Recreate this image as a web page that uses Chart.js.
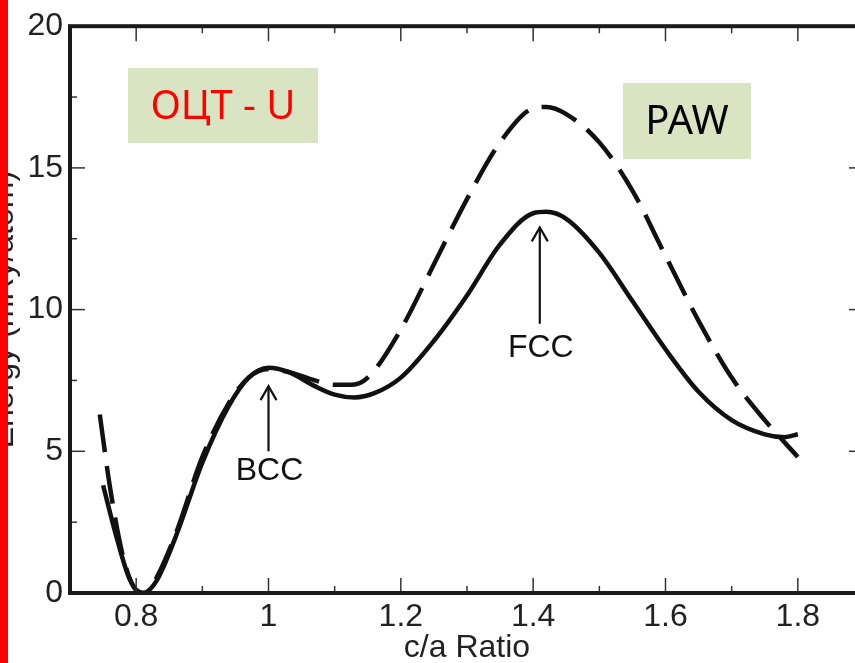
<!DOCTYPE html>
<html>
<head>
<meta charset="utf-8">
<script src="https://cdn.jsdelivr.net/npm/chart.js@4"></script>
<style>
  html, body { margin: 0; padding: 0; background: #fff; overflow: hidden; }
  #wrap { width: 880px; height: 663px; }
</style>
</head>
<body>
<div id="wrap"><canvas id="chart" width="880" height="663"></canvas></div>
<script>
// c/a ratio vs energy, two calculations
const solidX = [0.75, 0.77, 0.79, 0.81, 0.83, 0.86, 0.90, 0.94, 0.97, 1.00, 1.03, 1.07, 1.10, 1.13, 1.16, 1.20, 1.25, 1.30, 1.35, 1.40, 1.42, 1.45, 1.50, 1.55, 1.60, 1.65, 1.70, 1.75, 1.78, 1.80];
const solidY = [3.8, 2.0, 0.5, 0.0, 0.4, 2.0, 4.6, 6.6, 7.6, 7.95, 7.8, 7.3, 7.0, 6.9, 7.05, 7.6, 8.9, 10.5, 12.3, 13.4, 13.45, 13.2, 12.0, 10.3, 8.6, 7.1, 6.1, 5.6, 5.5, 5.6];

const dashX = [0.745, 0.76, 0.78, 0.80, 0.815, 0.83, 0.86, 0.90, 0.94, 0.97, 1.00, 1.03, 1.07, 1.10, 1.126, 1.15, 1.20, 1.25, 1.30, 1.35, 1.40, 1.42, 1.45, 1.50, 1.55, 1.60, 1.65, 1.70, 1.75, 1.80];
const dashY = [6.3, 3.8, 1.3, 0.1, 0.0, 0.5, 2.1, 4.8, 6.7, 7.6, 7.9, 7.8, 7.5, 7.35, 7.35, 7.6, 9.3, 11.6, 13.9, 15.9, 17.1, 17.15, 16.9, 15.9, 14.2, 11.9, 9.6, 7.6, 6.1, 4.8];

const xTicks = [0.8, 1.0, 1.2, 1.4, 1.6, 1.8];
const xTickLabels = ['0.8', '1', '1.2', '1.4', '1.6', '1.8'];
const xMinor = [0.9, 1.1, 1.3, 1.5, 1.7];
const yTicks = [0, 5, 10, 15, 20];
const yMinor = [2.5, 7.5, 12.5, 17.5];

const boxes = [
    { text: 'ОЦТ - U', color: '#ff0000', x: 128, y: 68, w: 190, h: 75 },
    { text: 'PAW', color: '#000000', x: 623, y: 83, w: 128, h: 76 }
];
// arrows point at the peaks: x value, head y value, tail y value
const arrows = [
    { label: 'BCC', x: 1.0, head: 7.3, tail: 5.0, labelY: 4.85 },
    { label: 'FCC', x: 1.41, head: 12.9, tail: 9.5, labelY: 9.2 }
];

const sans = '"Liberation Sans", Arial, sans-serif';

function pts(xs, ys) {
    return xs.map((x, i) => ({ x: x, y: ys[i] }));
}

const decor = {
    id: 'decor',
    afterDatasetsDraw(chart) {
        const ctx = chart.ctx;
        const a = chart.chartArea;
        const xs = chart.scales.x;
        const ys = chart.scales.y;
        ctx.save();

        // label boxes
        boxes.forEach(b => {
            ctx.fillStyle = '#d9e4c2';
            ctx.fillRect(b.x, b.y, b.w, b.h);
            ctx.fillStyle = b.color;
            ctx.font = '40px "Noto Sans", "Open Sans", sans-serif';
            ctx.textAlign = 'center';
            ctx.textBaseline = 'middle';
            ctx.fillText(b.text, b.x + b.w / 2, b.y + b.h / 2 + 2);
        });

        // arrows
        ctx.strokeStyle = '#111';
        ctx.fillStyle = '#111';
        arrows.forEach(ar => {
            const px = xs.getPixelForValue(ar.x);
            const hy = ys.getPixelForValue(ar.head);
            const ty = ys.getPixelForValue(ar.tail);
            ctx.lineWidth = 2.2;
            ctx.beginPath();
            ctx.moveTo(px, ty);
            ctx.lineTo(px, hy);
            ctx.stroke();
            ctx.beginPath();
            ctx.moveTo(px - 8, hy + 14);
            ctx.lineTo(px, hy);
            ctx.lineTo(px + 8, hy + 14);
            ctx.stroke();
            ctx.font = '32px ' + sans;
            ctx.textAlign = 'center';
            ctx.textBaseline = 'top';
            ctx.fillText(ar.label, px + 1, ys.getPixelForValue(ar.labelY));
        });

        // inward ticks on all four sides
        ctx.strokeStyle = '#333';
        ctx.lineWidth = 1.5;
        const tick = (x1, y1, x2, y2) => {
            ctx.beginPath();
            ctx.moveTo(x1, y1);
            ctx.lineTo(x2, y2);
            ctx.stroke();
        };
        xTicks.concat(xMinor).forEach(v => {
            const len = xTicks.includes(v) ? 15 : 7;
            const px = xs.getPixelForValue(v);
            tick(px, a.bottom, px, a.bottom - len);
            tick(px, a.top, px, a.top + len);
        });
        yTicks.concat(yMinor).forEach(v => {
            const len = yTicks.includes(v) ? 15 : 7;
            const py = ys.getPixelForValue(v);
            tick(a.left, py, a.left + len, py);
            tick(a.right, py, a.right - len, py);
        });

        // frame
        ctx.strokeStyle = '#1a1a1a';
        ctx.lineWidth = 4;
        ctx.strokeRect(a.left, a.top, a.right - a.left, a.bottom - a.top);

        // y axis title, mostly cut off at the left edge
        ctx.save();
        ctx.translate(13, ys.getPixelForValue(10));
        ctx.rotate(-Math.PI / 2);
        ctx.fillStyle = '#222';
        ctx.font = '32px ' + sans;
        ctx.textAlign = 'center';
        ctx.textBaseline = 'alphabetic';
        ctx.fillText('Energy (mRy/atom)', 0, 0);
        ctx.restore();

        // red stripe on the left
        ctx.fillStyle = '#ff0000';
        ctx.fillRect(0, 0, 8, chart.height);
        ctx.restore();
    }
};

new Chart(document.getElementById('chart'), {
    type: 'line',
    data: {
        datasets: [
            {
                label: 'solid',
                data: pts(solidX, solidY),
                borderColor: '#111',
                borderWidth: 4.5,
                pointRadius: 0,
                cubicInterpolationMode: 'monotone',
                fill: false
            },
            {
                label: 'dashed',
                data: pts(dashX, dashY),
                borderColor: '#111',
                borderWidth: 4.5,
                borderDash: [38, 14],
                pointRadius: 0,
                cubicInterpolationMode: 'monotone',
                fill: false
            }
        ]
    },
    options: {
        responsive: false,
        animation: false,
        layout: { padding: { top: 21, right: 16, bottom: 0, left: 0 } },
        plugins: {
            legend: { display: false },
            tooltip: { enabled: false }
        },
        scales: {
            x: {
                type: 'linear',
                min: 0.7,
                max: 1.9,
                grid: { display: false, drawTicks: false },
                border: { display: false },
                afterBuildTicks: s => { s.ticks = xTicks.map(v => ({ value: v })); },
                afterFit: s => { s.height = 70; },
                ticks: {
                    padding: 5,
                    color: '#222',
                    font: { family: sans, size: 32 },
                    callback: (v) => xTickLabels[xTicks.indexOf(v)] ?? ''
                },
                title: {
                    display: true,
                    text: 'c/a Ratio',
                    color: '#222',
                    font: { family: sans, size: 32 },
                    padding: { top: 0, bottom: -4 }
                }
            },
            y: {
                min: 0,
                max: 20,
                grid: { display: false, drawTicks: false },
                border: { display: false },
                afterBuildTicks: s => { s.ticks = yTicks.map(v => ({ value: v })); },
                afterFit: s => { s.width = 70; },
                ticks: {
                    padding: 7,
                    color: '#222',
                    font: { family: sans, size: 32 }
                }
            }
        }
    },
    plugins: [decor]
});
</script>
</body>
</html>
